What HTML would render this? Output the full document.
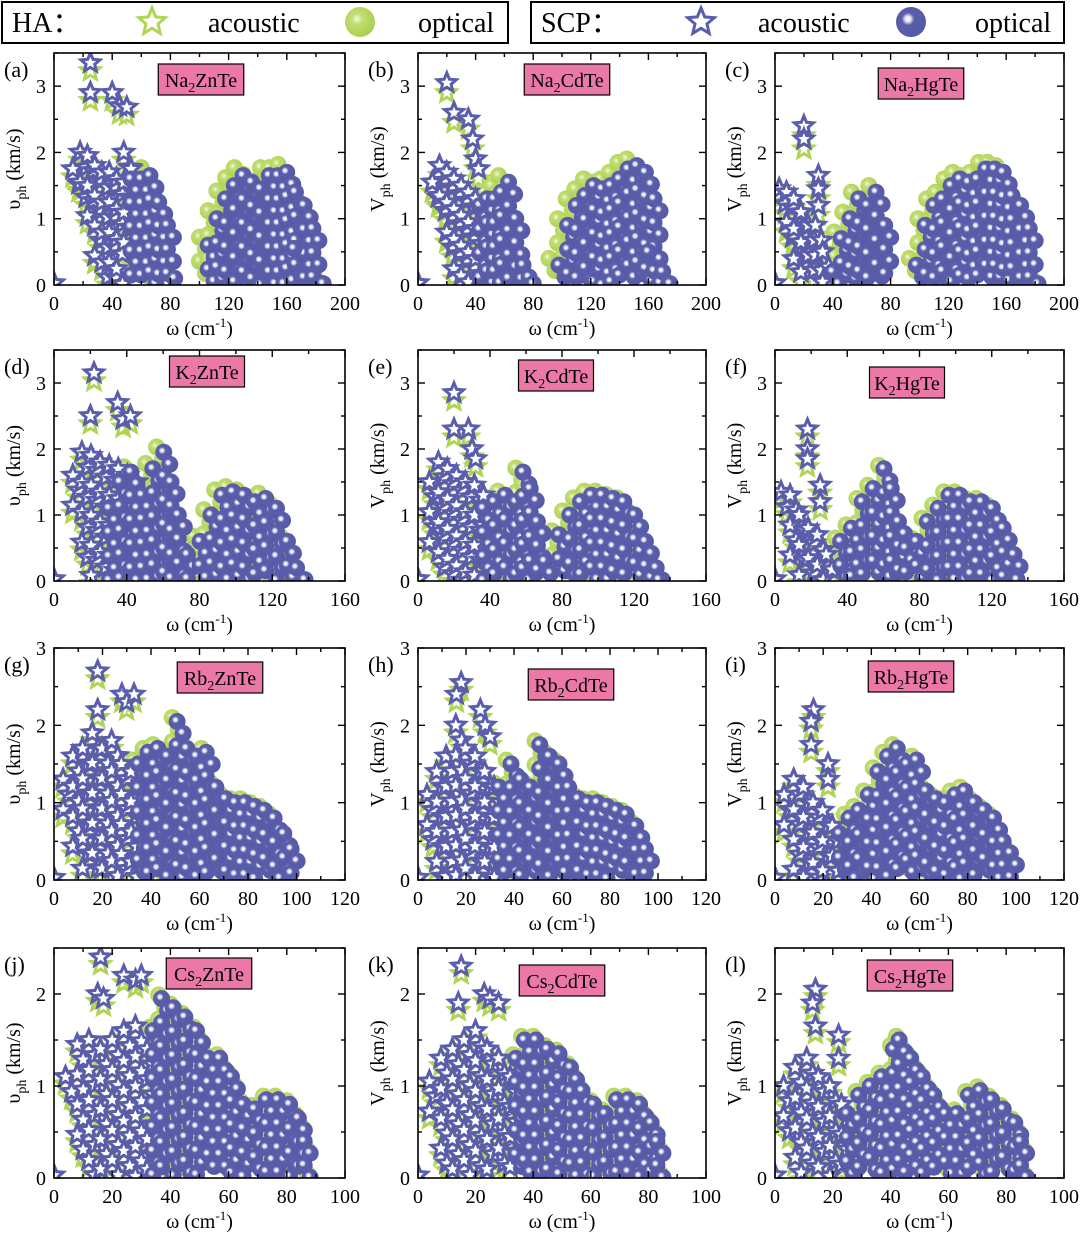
<!DOCTYPE html>
<html><head><meta charset="utf-8"><style>
html,body{margin:0;padding:0;background:#fff;}
svg{display:block;font-family:"Liberation Serif",serif;}
</style></head><body>
<svg id="chart" width="1080" height="1235" viewBox="0 0 1080 1235">
<defs>
<radialGradient id="gb" cx="0.4" cy="0.4" r="0.6"><stop offset="0" stop-color="#ffffff"/><stop offset="0.15" stop-color="#e6e7f5"/><stop offset="0.35" stop-color="#5a5eaa"/><stop offset="1" stop-color="#5559a7"/></radialGradient>
<radialGradient id="gg" cx="0.4" cy="0.4" r="0.6"><stop offset="0" stop-color="#f4fadf"/><stop offset="0.3" stop-color="#c2dd72"/><stop offset="1" stop-color="#abd050"/></radialGradient>
</defs>
</svg>
<script>
// ---- data (per panel a..l) ----
const panelNames=["Na2ZnTe","Na2CdTe","Na2HgTe","K2ZnTe","K2CdTe","K2HgTe","Rb2ZnTe","Rb2CdTe","Rb2HgTe","Cs2ZnTe","Cs2CdTe","Cs2HgTe"];
const xMaxes=[200,200,200,160,160,160,120,120,120,100,100,100];
const yMaxes=[3.5,3.5,3.5,3.5,3.5,3.5,3,3,3,2.5,2.5,2.5];
const xTickStep=[40,40,40,40,40,40,20,20,20,20,20,20];
// acoustic star columns
const acW=[[15,20,25,30,35,40,45,50,55],[12,17,22,27,32,37,42],[5,10,15,20,25,30,35],[12,17,22,27,32,37,42,47],[8,13,18,23,28,33,38],[5,10,15,20,25,30],[5,9,13,17,21,25,29,33],[5,9,13,17,21,25,29,33],[5,9,13,17,21,25],[5,9,13,17,21,25,29,33],[5,9,13,17,21,25,29,33],[4,8,12,16,20,24]];
const acHi=[[1.75,2.0,1.95,1.8,1.7,1.7,1.6,2.0,1.75],[1.55,1.8,1.7,1.6,1.5,1.4,1.3],[1.45,1.4,1.3,1.1,0.9,0.9,0.5],[1.6,1.95,1.9,1.8,1.75,1.7,1.6,1.5],[1.5,1.8,1.7,1.6,1.5,1.45,1.3],[1.35,1.3,1.0,0.8,0.7,0.4],[1.3,1.6,1.7,1.9,1.7,1.8,1.5,1.4],[1.1,1.4,1.6,2.0,1.7,1.6,1.4,1.2],[1.1,1.3,1.2,1.0,0.9,0.7],[1.1,1.45,1.5,1.4,1.5,1.6,1.65,1.4],[1.05,1.3,1.4,1.5,1.6,1.4,1.3,1.1],[1.0,1.2,1.3,1.1,1.0,0.8]];
const acLo=[[1.4,1.2,1.0,0.3,0,0,0,0.5,1.2],[1.2,0.9,0.5,0.1,0,0,0],[1.1,0.7,0.3,0,0,0,0],[1.0,0.3,0,0,0,0,0,0],[0.5,0,0,0,0,0,0],[0.9,0.3,0,0,0,0],[0.8,0.3,0,0,0,0,0,0],[0.5,0,0,0,0,0,0,0],[0.7,0.1,0,0,0,0],[0.8,0.3,0,0,0,0,0,0],[0.6,0.1,0,0,0,0,0,0],[0.5,0,0,0,0,0]];
// isolated stars [omega, v]
const acIso=[[[25,3.35],[25,2.9],[40,2.9],[45,2.7],[50,2.68],[0,0.03]],[[20,3.05],[25,2.6],[35,2.5],[38,2.2],[40,1.9],[42,1.75],[0,0.03]],[[20,2.4],[20,2.2],[30,1.65],[30,1.45],[30,1.2],[0,0.03]],[[22,3.15],[20,2.5],[35,2.7],[38,2.45],[42,2.5],[0,0.03]],[[20,2.85],[20,2.3],[28,2.3],[30,2.0],[32,1.85],[0,0.03]],[[18,2.3],[18,2.0],[18,1.85],[25,1.45],[25,1.2],[0,0.03]],[[18,2.7],[18,2.2],[28,2.4],[30,2.3],[33,2.4],[0,0.03]],[[18,2.55],[16,2.4],[26,2.2],[28,2.0],[30,1.85],[0,0.03]],[[16,2.2],[15,2.05],[15,1.75],[22,1.5],[22,1.3],[0,0.03]],[[16,2.4],[15,2.0],[17,1.95],[24,2.2],[28,2.15],[30,2.2],[0,0.03]],[[15,2.3],[14,1.9],[23,2.0],[25,1.95],[28,1.9],[0,0.03]],[[14,2.05],[13,1.9],[14,1.65],[22,1.55],[22,1.3],[0,0.03]]];
// optical sphere columns (top envelope, bottom = 0)
const opW=[[55,62,68,74,80,85,108,114,120,126,132,138,144,150,156,162,168,174,180],[45,50,55,60,65,70,75,100,106,112,118,124,130,136,142,148,154,160,166,172],[42,48,54,60,66,72,78,100,106,112,118,124,130,136,142,148,154,160,166,172,178],[32,38,44,50,56,62,66,70,75,82,88,94,100,106,112,118,124,130,135],[38,44,50,56,60,64,68,72,80,86,92,98,104,110,116,122,128,134],[38,44,50,56,62,66,70,74,80,86,92,98,104,110,116,122,128,134],[36,40,44,48,52,56,60,64,68,72,76,80,84,88,92,96,99],[35,40,44,48,52,56,60,64,68,72,76,80,84,88,92,96],[28,32,36,40,44,48,52,56,60,64,68,72,76,80,84,88,92,96,99],[35,38,42,46,50,54,58,62,66,70,74,78,82,85,87],[35,38,42,46,50,54,58,62,66,70,74,78,82,84],[26,30,34,38,42,44,48,52,56,60,64,68,72,76,80,84,86]];
const opHi=[[1.6,1.6,1.65,1.25,0.9,0.1,0.6,1.0,1.3,1.5,1.65,1.55,1.45,1.65,1.65,1.7,1.4,1.2,0.85],[1.2,1.3,1.3,1.4,1.55,1.0,0.3,0.3,0.9,1.2,1.35,1.5,1.45,1.5,1.6,1.75,1.8,1.7,1.3,0.2],[0.2,0.7,1.0,1.3,1.2,1.4,0.9,0.3,0.9,1.2,1.3,1.5,1.6,1.55,1.6,1.75,1.75,1.7,1.35,1.2,0.85],[1.1,1.5,1.65,1.3,1.7,1.95,1.5,1.0,0.4,0.6,1.0,1.3,1.35,1.3,1.2,1.25,1.1,0.6,0.2],[1.1,1.2,1.3,1.2,1.65,1.4,0.9,0.3,0.7,1.0,1.2,1.3,1.3,1.25,1.2,1.0,0.6,0.2],[0.6,0.8,1.2,1.4,1.7,1.4,0.9,0.5,0.6,0.9,1.1,1.3,1.3,1.2,1.2,1.1,0.8,0.4],[1.5,1.65,1.7,1.6,2.05,1.7,1.6,1.65,1.2,1.05,1.0,1.0,0.95,0.9,0.8,0.6,0.4],[1.2,1.5,1.3,1.2,1.75,1.6,1.5,1.2,1.05,1.0,1.0,0.95,0.9,0.85,0.7,0.4],[0.6,0.8,0.9,1.1,1.4,1.6,1.7,1.5,1.55,1.15,1.05,1.0,1.1,1.15,1.0,0.9,0.8,0.5,0.35],[1.6,1.95,1.85,1.75,1.6,1.3,1.3,1.1,0.8,0.75,0.85,0.85,0.8,0.65,0.4],[1.3,1.5,1.5,1.4,1.35,1.2,0.95,0.8,0.7,0.85,0.85,0.8,0.6,0.4],[0.7,0.9,1.0,1.1,1.4,1.5,1.3,1.1,0.9,0.7,0.7,0.9,0.95,0.85,0.75,0.6,0.4]];
const opIso=[[[185,0.02],[165,0.55]],[[80,0.02],[175,0.02],[160,0.5]],[[182,0.02]],[[138,0.02]],[[134,0.02]],[[134,0.02]],[],[],[],[],[],[]];
// HA offsets relative to SCP (omega, v)
const haOptDw=[-6,-7,-5,-4,-4,-3,-2,-2,-2,-1,-1,-1];
const haOptDv=[0.12,0.1,0.1,0.08,0.06,0.05,0.05,0.05,0.05,0.04,0.04,0.04];
const haAcDv=[-0.12,-0.15,-0.15,-0.12,-0.12,-0.12,-0.1,-0.1,-0.1,-0.08,-0.08,-0.08];

// ---- layout ----
const cols=[[54,345],[418,706],[775,1064]];
const rows=[[53,285],[350,581],[648,880],[948,1178]];
const letters="abcdefghijkl";
const labelPos=[[201,80],[567,80],[921,84],[207,372],[556,376],[907,383],[220,678],[571,685],[911,677],[209,974],[562,981],[910,976]];
const NS='http://www.w3.org/2000/svg';
const svg=document.getElementById('chart');
function mk(tag,attrs,parent){const e=document.createElementNS(NS,tag);for(const k in attrs)e.setAttribute(k,attrs[k]);(parent||svg).appendChild(e);return e;}
function starPts(cx,cy,r){let s=[];for(let i=0;i<10;i++){const a=-Math.PI/2+i*Math.PI/5;const rr=i%2?r*0.45:r;s.push((cx+rr*Math.cos(a)).toFixed(1)+','+(cy+rr*Math.sin(a)).toFixed(1));}return s.join(' ');}

// legend
function legendBox(x,w,title,nm){
  const g=mk('g',{});
  
  
  mk('rect',{x:x,y:2,width:w,height:41,fill:'#fff',stroke:'#000','stroke-width':2},g);
  const t=mk('text',{x:x+10,y:32,'font-size':28},g);t.textContent=title;
  
  
  return g;
}
const lg1=legendBox(2,506,'HA：','legend-ha');
const s1=mk('polygon',{points:starPts(152,22,14),fill:'#fff',stroke:'#b0d455','stroke-width':3},lg1);


const t1=mk('text',{x:208,y:32,'font-size':28},lg1);t1.textContent='acoustic';


const c1=mk('circle',{cx:360,cy:22,r:15,fill:'url(#gg)'},lg1);


const t2=mk('text',{x:418,y:32,'font-size':28},lg1);t2.textContent='optical';


const lg2=legendBox(531,533,'SCP：','legend-scp');
const s2=mk('polygon',{points:starPts(701,22,14),fill:'#fff',stroke:'#5a5eaa','stroke-width':3},lg2);


const t3=mk('text',{x:758,y:32,'font-size':28},lg2);t3.textContent='acoustic';


const c2=mk('circle',{cx:911,cy:22,r:15,fill:'url(#gb)'},lg2);


const t4=mk('text',{x:975,y:32,'font-size':28},lg2);t4.textContent='optical';



for(let p=0;p<12;p++){
  const [x0,x1]=cols[p%3];const [yt,yb]=rows[Math.floor(p/3)];
  const xmax=xMaxes[p],ymax=yMaxes[p];
  const xs=w=>x0+w/xmax*(x1-x0);
  const ys=v=>yb-v/ymax*(yb-yt);
  const pxv=(yb-yt)/ymax;
  const pg=mk('g',{});
  
  
  const cp=mk('clipPath',{id:'clip'+p},pg);
  mk('rect',{x:x0,y:yt,width:x1-x0,height:yb-yt},cp);
  const plot=mk('g',{'clip-path':'url(#clip'+p+')'},pg);
  
  
  const R=8.5, stepS=12/pxv, stepA=15/pxv;
  function drawStars(color,dv,nm){
    const g=mk('g',{},plot);
    
    
    acW[p].forEach((w,i)=>{
      let k=0;
      for(let v=acHi[p][i];v>=acLo[p][i]-1e-6;v-=stepA,k++){
        const st=mk('polygon',{points:starPts(xs(w)+(k%2?3:-3),ys(v+dv),10),fill:'#fff',stroke:color,'stroke-width':3},g);
        
        
      }
    });
    acIso[p].forEach(([w,v])=>{
      const st=mk('polygon',{points:starPts(xs(w),ys(v+dv),10),fill:'#fff',stroke:color,'stroke-width':3},g);
      
      
    });
  }
  function drawSpheres(fill,dw,dv,nm){
    const g=mk('g',{},plot);
    
    
    opW[p].forEach((w,i)=>{
      let k=0;
      for(let v=opHi[p][i];v>=-1e-6;v-=stepS,k++){
        const c=mk('circle',{cx:xs(w+dw)+(k%2?3:-3),cy:ys(v+dv),r:R,fill:fill},g);
        
        
      }
    });
    opIso[p].forEach(([w,v])=>{
      const c=mk('circle',{cx:xs(w+dw),cy:ys(v+dv),r:R,fill:fill},g);
      
      
    });
  }
  drawStars('#b0d455',haAcDv[p],'ha-acoustic-series');
  drawSpheres('url(#gg)',haOptDw[p],haOptDv[p],'ha-optical-series');
  drawStars('#5a5eaa',0,'scp-acoustic-series');
  drawSpheres('url(#gb)',0,0,'scp-optical-series');
  const fr=mk('rect',{x:x0,y:yt,width:x1-x0,height:yb-yt,fill:'none',stroke:'#000','stroke-width':1.6},pg);
  
  
  for(let v=0;v<=ymax+1e-6;v+=0.5){
    const major=Math.abs(v-Math.round(v))<1e-6, L=major?7:4;
    mk('line',{x1:x0,x2:x0+L,y1:ys(v),y2:ys(v),stroke:'#000','stroke-width':1.4},pg);
    mk('line',{x1:x1,x2:x1-L,y1:ys(v),y2:ys(v),stroke:'#000','stroke-width':1.4},pg);
    if(major){
      const t=mk('text',{x:x0-8,y:ys(v)+7,'font-size':20,'text-anchor':'end'},pg);t.textContent=v;
      
      
    }
  }
  const st=xTickStep[p];
  for(let w=0;w<=xmax+1e-6;w+=st/2){
    const major=Math.abs(w/st-Math.round(w/st))<1e-6, L=major?7:4;
    mk('line',{x1:xs(w),x2:xs(w),y1:yb,y2:yb-L,stroke:'#000','stroke-width':1.4},pg);
    mk('line',{x1:xs(w),x2:xs(w),y1:yt,y2:yt+L,stroke:'#000','stroke-width':1.4},pg);
    if(major){
      const t=mk('text',{x:xs(w),y:yb+25,'font-size':20,'text-anchor':'middle'},pg);t.textContent=w;
      
      
    }
  }
  const xt=mk('text',{x:(x0+x1)/2,y:yb+50,'font-size':20,'text-anchor':'middle'},pg);
  xt.innerHTML='ω (cm<tspan dy="-8" font-size="13">-1</tspan><tspan dy="8">)</tspan>';
  
  
  const yx=x0-34, yc=(yt+yb)/2;
  const yT=mk('text',{x:yx,y:yc,'font-size':20,'text-anchor':'middle',transform:'rotate(-90 '+yx+' '+yc+')'},pg);
  yT.innerHTML=(p%3===0?'υ':'V')+'<tspan dy="6" font-size="14">ph</tspan><tspan dy="-6"> (km/s)</tspan>';
  
  
  const pl=mk('text',{x:x0-50,y:yt+24,'font-size':22},pg);pl.textContent='('+letters[p]+')';
  
  
  const nm=panelNames[p];const m=nm.match(/^([A-Za-z]+)2(.*)$/);
  const [lx,ly]=labelPos[p];const bw=nm.length*10.5+12;
  const lb=mk('rect',{x:lx-bw/2,y:ly-16,width:bw,height:31,fill:'#ec78a8',stroke:'#000','stroke-width':1.2},pg);
  
  
  const lt=mk('text',{x:lx,y:ly+7,'font-size':20,'text-anchor':'middle'},pg);
  lt.innerHTML=m[1]+'<tspan dy="5" font-size="14">2</tspan><tspan dy="-5">'+m[2]+'</tspan>';
  
  
}
</script>
</body></html>
